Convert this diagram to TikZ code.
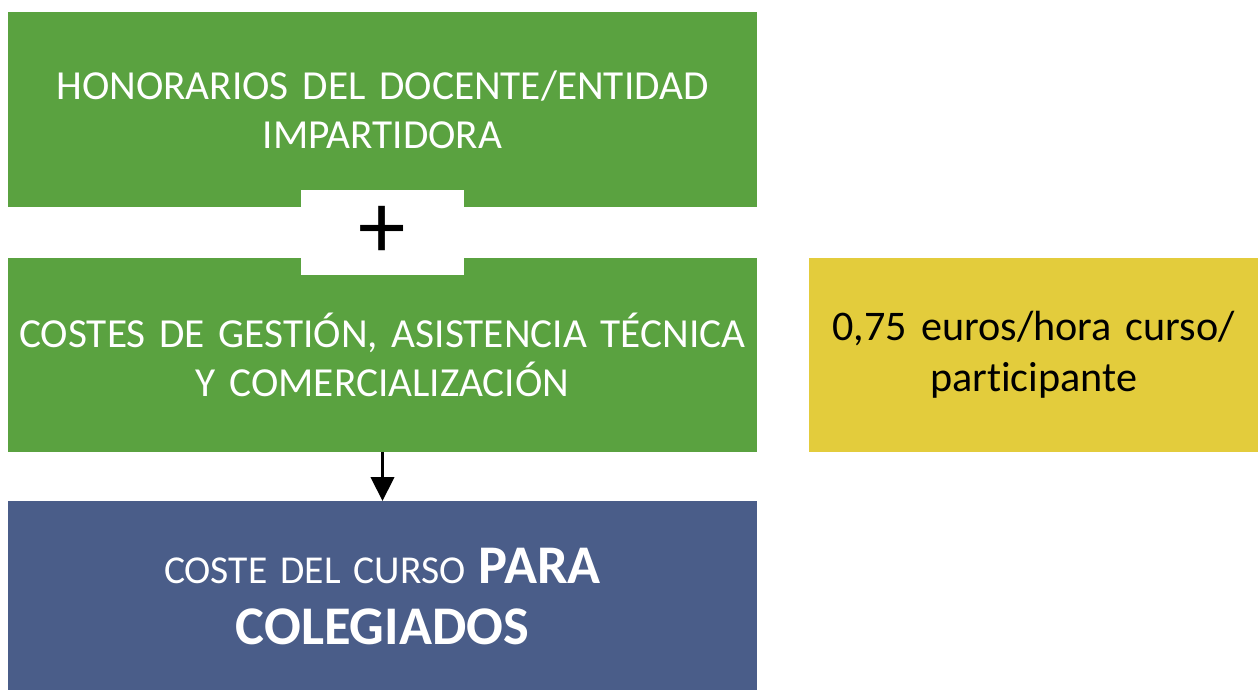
\documentclass[tikz,border=0pt]{standalone}
\usepackage{fontspec}
\setmainfont{Carlito}[Ligatures=NoCommon, WordSpace=0.75]
\usepackage{xcolor}
\usepackage{tikz}
\usetikzlibrary{arrows.meta, positioning}

\definecolor{costgreen}{RGB}{90,162,64}
\definecolor{costyellow}{RGB}{227,204,60}
\definecolor{costblue}{RGB}{74,93,137}

\begin{document}
\begin{tikzpicture}
\tikzstyle{costbox} = [rectangle, inner sep=0pt, minimum width=14.98cm, text width=14.8cm, align=center, font=\fontsize{23.5}{28}\selectfont]
\tikzstyle{plusbox} = [rectangle, fill=white, inner sep=0pt, minimum width=3.26cm, minimum height=1.7cm, font=\fontsize{54}{54}\selectfont]

\useasboundingbox (0,0) rectangle (25.16,-13.8);

\node (honorarios) [costbox, fill=costgreen, text=white, minimum height=3.9cm] at (7.65,-2.19) {HONORARIOS DEL DOCENTE/ENTIDAD\\IMPARTIDORA};
\node (gestion) [costbox, fill=costgreen, text=white, minimum height=3.88cm, below=1cm of honorarios] {COSTES DE GESTIÓN, ASISTENCIA TÉCNICA\\Y COMERCIALIZACIÓN};
\node (tarifa) [costbox, fill=costyellow, text=black, minimum width=9cm, text width=8.8cm, minimum height=3.88cm, right=1.02cm of gestion, font=\fontsize{24}{29}\selectfont] {0,75 euros/hora curso/\\participante};
\node (colegiados) [costbox, fill=costblue, text=white, minimum height=3.8cm, below=0.98cm of gestion, font=\fontsize{22.5}{35}\selectfont] {COSTE DEL CURSO {\fontsize{31}{35}\selectfont\bfseries PARA}\\{\fontsize{31}{35}\selectfont\bfseries COLEGIADOS}};

\node (mas) [plusbox] at ([yshift=-0.5cm]honorarios.south) {+};

\draw [line width=2.2pt, -{Triangle[length=0.48cm, width=0.46cm]}] (gestion) -- (colegiados);

\end{tikzpicture}
\end{document}
